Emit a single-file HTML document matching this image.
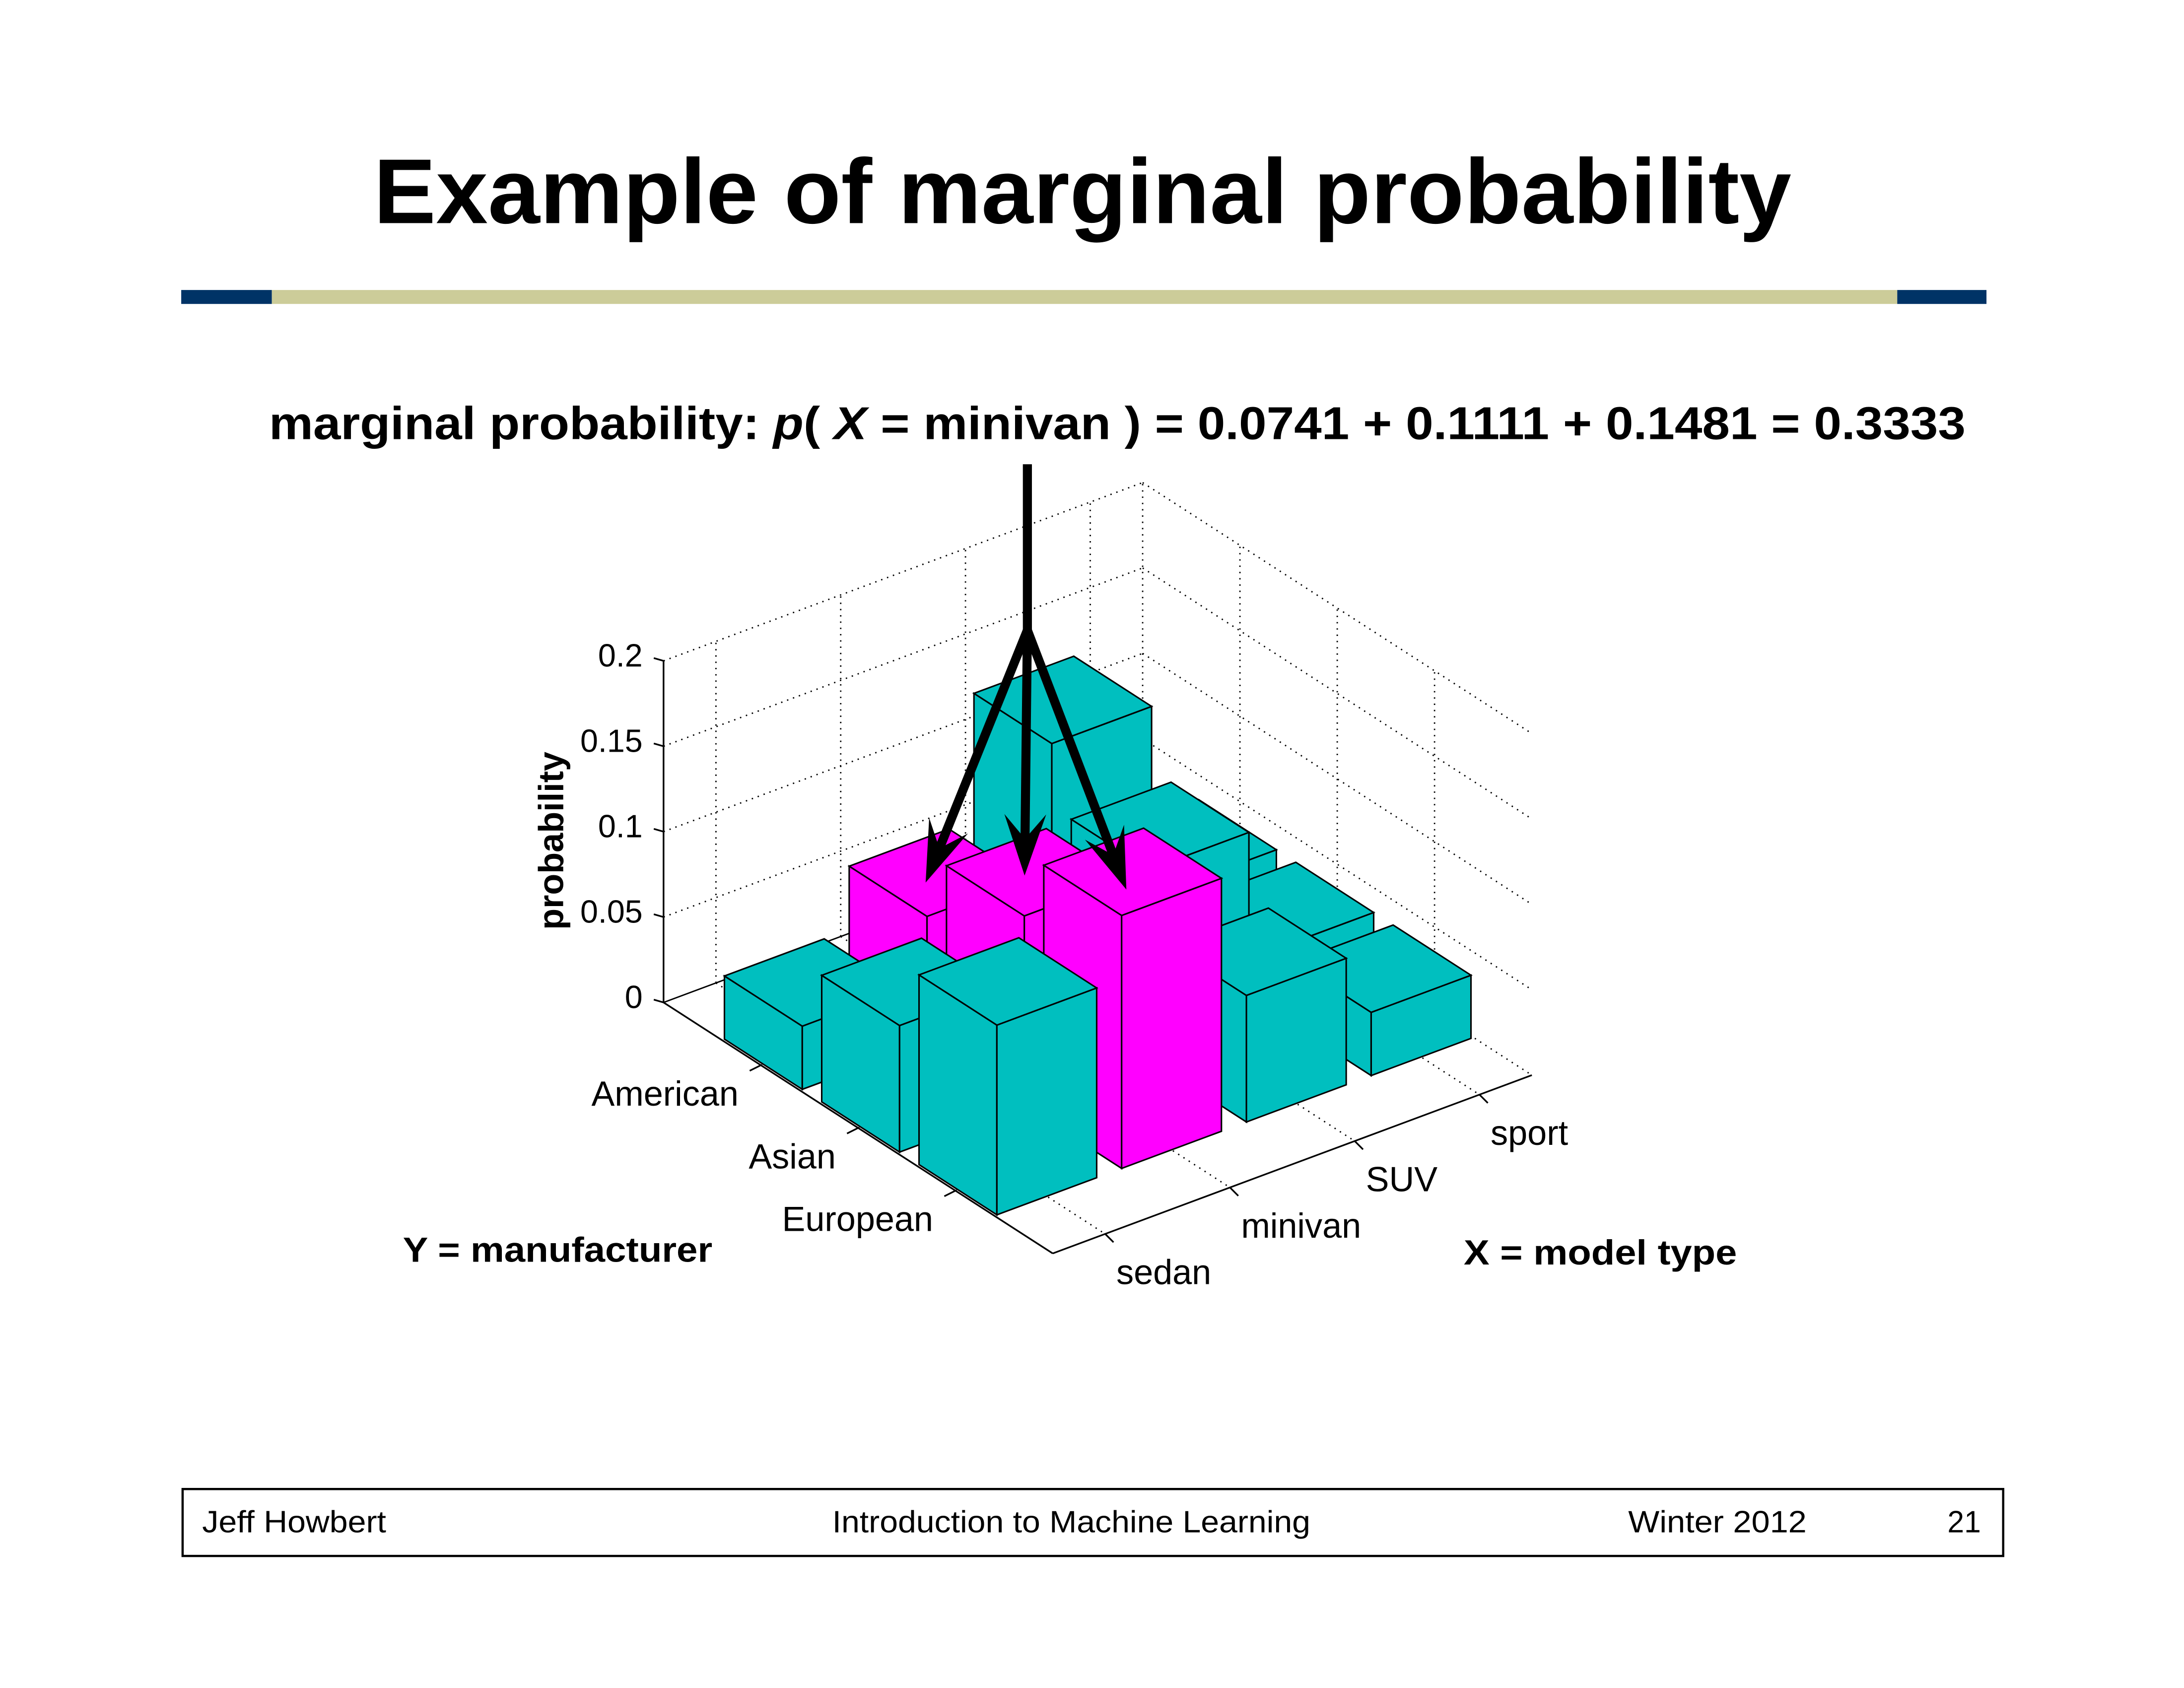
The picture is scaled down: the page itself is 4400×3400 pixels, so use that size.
<!DOCTYPE html>
<html><head><meta charset="utf-8"><style>
html,body{margin:0;padding:0;background:#fff;}
svg{display:block;}
text{font-family:"Liberation Sans",Arial,sans-serif;}
</style></head><body>
<svg id="page" xmlns="http://www.w3.org/2000/svg" width="4400" height="3400" viewBox="0 0 1566.7 1210.7" preserveAspectRatio="none">
<rect x="0" y="0" width="1566.7" height="1210.7" fill="#fff"/>
<text x="268" y="160" font-size="66" font-weight="bold" textLength="1017" lengthAdjust="spacingAndGlyphs">Example of marginal probability</text>
<g>
<rect x="130" y="208" width="65" height="10" fill="#003366"/>
<rect x="195" y="208" width="1166" height="10" fill="#CCCC99"/>
<rect x="1361" y="208" width="64" height="10" fill="#003366"/>
</g>
<text x="193" y="315" font-size="33" font-weight="bold" textLength="1217" lengthAdjust="spacingAndGlyphs">marginal probability: <tspan font-style="italic">p</tspan>( <tspan font-style="italic">X</tspan> = minivan ) = 0.0741 + 0.1111 + 0.1481 = 0.3333</text>
<g id="chart"></g>
<g id="arrows"></g>
<text x="289" y="905" font-size="25" font-weight="bold" textLength="222" lengthAdjust="spacingAndGlyphs">Y = manufacturer</text>
<text x="1050" y="907" font-size="25" font-weight="bold" textLength="196" lengthAdjust="spacingAndGlyphs">X = model type</text>
<g>
<rect x="131" y="1068" width="1306" height="48" fill="none" stroke="#000" stroke-width="1.6"/>
<text x="145" y="1099" font-size="22" textLength="132" lengthAdjust="spacingAndGlyphs">Jeff Howbert</text>
<text x="597" y="1099" font-size="22" textLength="343" lengthAdjust="spacingAndGlyphs">Introduction to Machine Learning</text>
<text x="1168" y="1099" font-size="22" textLength="128" lengthAdjust="spacingAndGlyphs">Winter 2012</text>
<text x="1397" y="1099" font-size="22" textLength="24" lengthAdjust="spacingAndGlyphs">21</text>
</g>
</svg>
<script>
const models = ['sedan', 'minivan', 'SUV', 'sport'];
const makers = ['American', 'Asian', 'European'];
const probAmerican = [0.0370, 0.0741, 0.1481, 0.0370];
const probAsian = [0.0741, 0.1111, 0.1111, 0.0370];
const probEuropean = [0.1111, 0.1481, 0.0741, 0.0370];
const zTicks = [0, 0.05, 0.1, 0.15, 0.2];
const zTickLabels = ['0', '0.05', '0.1', '0.15', '0.2'];
const highlightModel = 'minivan';

const NS = 'http://www.w3.org/2000/svg';
const chart = document.getElementById('chart');
const XMIN = 0.58, XMAX = 4.42, YMIN = 0, YMAX = 4, ZMAX = 0.2;
const O = [476, 719], UX = [89.5, -33.3], UY = [69.8, 45.0], KZ = 1225;
function P(x, y, z) {
  return [O[0] + (x - XMIN) * UX[0] + (y - YMIN) * UY[0],
          O[1] + (x - XMIN) * UX[1] + (y - YMIN) * UY[1] - z * KZ];
}
function mk(tag, attrs, parent) {
  const e = document.createElementNS(NS, tag);
  for (const k in attrs) e.setAttribute(k, attrs[k]);
  (parent || chart).appendChild(e);
  return e;
}
function line(a, b, dotted, w) {
  const e = mk('line', {x1: a[0], y1: a[1], x2: b[0], y2: b[1], stroke: '#000', 'stroke-width': w || 1});
  if (dotted) e.setAttribute('stroke-dasharray', '1 3.5');
  return e;
}
const xGrid = models.map((m, i) => i + 1);
const yGrid = makers.map((m, j) => j + 1);
zTicks.forEach(z => {
  let e = line(P(XMIN, YMIN, z), P(XMAX, YMIN, z), z > 0);
  
  
  e = line(P(XMAX, YMIN, z), P(XMAX, YMAX, z), true);
  
  
});
xGrid.forEach(x => {
  let e = line(P(x, YMIN, 0), P(x, YMIN, ZMAX), true);
  
  
  e = line(P(x, YMIN, 0), P(x, YMAX, 0), true);
  
  
});
yGrid.forEach(y => {
  let e = line(P(XMAX, y, 0), P(XMAX, y, ZMAX), true);
  
  
  e = line(P(XMIN, y, 0), P(XMAX, y, 0), true);
  
  
});
let ed = line(P(XMAX, YMIN, 0), P(XMAX, YMIN, ZMAX), true);


let ax = line(P(XMIN, YMIN, 0), P(XMIN, YMIN, ZMAX), false, 1.2);


ax = line(P(XMIN, YMIN, 0), P(XMIN, YMAX, 0), false, 1.2);


ax = line(P(XMIN, YMAX, 0), P(XMAX, YMAX, 0), false, 1.2);


zTicks.forEach((z, k) => {
  const a = P(XMIN, YMIN, z);
  const t = line(a, [a[0] - 7, a[1] - 2], false, 1.2);
  
  
  const tx = mk('text', {x: a[0] - 15, y: a[1] + 4, 'font-size': 23, 'text-anchor': 'end'});
  tx.textContent = zTickLabels[k];
  
  
});
makers.forEach((m, j) => {
  const a = P(XMIN, j + 1, 0);
  const t = line(a, [a[0] - 8, a[1] + 4], false, 1.2);
  
  
  const tx = mk('text', {x: a[0] - 16, y: a[1] + 29, 'font-size': 25, 'text-anchor': 'end'});
  tx.textContent = m;
  
  
});
models.forEach((m, i) => {
  const a = P(i + 1, YMAX, 0);
  const t = line(a, [a[0] + 6, a[1] + 6], false, 1.2);
  
  
  const tx = mk('text', {x: a[0] + 8, y: a[1] + 36, 'font-size': 25});
  tx.textContent = m;
  
  
});
const pt = mk('text', {x: 0, y: 0, 'font-size': 25, 'font-weight': 'bold', 'text-anchor': 'middle', transform: 'translate(404,603) rotate(-90)'});
pt.textContent = 'probability';


const series = [probAmerican, probAsian, probEuropean];
function poly(pts, fill) {
  return mk('polygon', {points: pts.map(p => p[0].toFixed(2) + ',' + p[1].toFixed(2)).join(' '), fill: fill, stroke: '#000', 'stroke-width': 1.1, 'stroke-linejoin': 'miter'});
}
for (let j = 0; j < makers.length; j++) {
  for (let i = models.length - 1; i >= 0; i--) {
    const v = series[j][i];
    const x0 = i + 1 - 0.4, x1 = i + 1 + 0.4, y0 = j + 1 - 0.4, y1 = j + 1 + 0.4;
    const fill = models[i] === highlightModel ? '#FF00FF' : '#00BFBF';
    const g = mk('g', {});
    
    
    const f1 = poly([P(x0, y0, 0), P(x0, y1, 0), P(x0, y1, v), P(x0, y0, v)], fill); g.appendChild(f1);
    const f2 = poly([P(x0, y1, 0), P(x1, y1, 0), P(x1, y1, v), P(x0, y1, v)], fill); g.appendChild(f2);
    const f3 = poly([P(x0, y0, v), P(x1, y0, v), P(x1, y1, v), P(x0, y1, v)], fill); g.appendChild(f3);
  }
}
const arrows = document.getElementById('arrows');
const root = [737, 452];
mk('line', {x1: 737, y1: 333, x2: root[0], y2: root[1], stroke: '#000', 'stroke-width': 6.5}, arrows);
const tips = [[664, 633], [735, 628], [808, 638]];
tips.forEach(t => {
  const dx = t[0] - root[0], dy = t[1] - root[1], L = Math.hypot(dx, dy);
  const d = [dx / L, dy / L], n = [-d[1], d[0]];
  const HL = 44, HW = 15;
  const back = [t[0] - d[0] * HL * 0.6, t[1] - d[1] * HL * 0.6];
  const l = mk('line', {x1: root[0], y1: root[1], x2: back[0], y2: back[1], stroke: '#000', 'stroke-width': 6.5, 'stroke-linecap': 'round'}, arrows);
  
  
  const pts = [t, [t[0] - d[0] * HL + n[0] * HW, t[1] - d[1] * HL + n[1] * HW], back, [t[0] - d[0] * HL - n[0] * HW, t[1] - d[1] * HL - n[1] * HW]];
  const h = mk('polygon', {points: pts.map(p => p.join(',')).join(' '), fill: '#000'}, arrows);
  
  
});
</script>
</body></html>
